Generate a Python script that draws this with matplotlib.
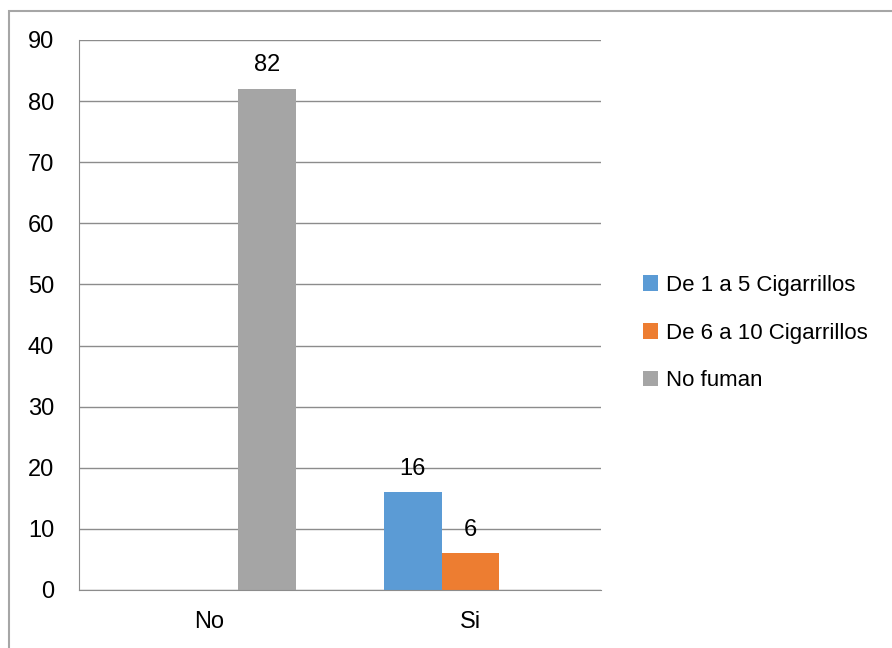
import numpy as np
import matplotlib.pyplot as plt
from matplotlib.patches import Rectangle, Patch

plt.rcParams['font.family'] = ['Liberation Sans', 'DejaVu Sans']

# data
categories = ["No", "Si"]
series_names = ["De 1 a 5 Cigarrillos", "De 6 a 10 Cigarrillos", "No fuman"]
values_1a5 = [0, 16]
values_6a10 = [0, 6]
values_nofuman = [82, 0]
series_colors = ["#5B9BD5", "#ED7D31", "#A5A5A5"]
y_ticks = [0, 10, 20, 30, 40, 50, 60, 70, 80, 90]

W, H = 892, 648
fig = plt.figure(figsize=(W / 100, H / 100), dpi=100)
ax = fig.add_axes([79 / W, (H - 590) / H, (601 - 79) / W, (590 - 40) / H])

# outer chart border (only top and left visible in the reference)
fig.patches.append(Rectangle((9 / W, -0.1), 1.2, (H - 11) / H + 0.1,
                             transform=fig.transFigure, fill=False,
                             edgecolor="#A6A6A6", linewidth=1.5))

FS = 17
x = np.arange(len(categories))
bw = 0.222
all_series = [values_1a5, values_6a10, values_nofuman]
for i, (vals, col) in enumerate(zip(all_series, series_colors)):
    pos = x + (i - 1) * bw
    ax.bar(pos, vals, width=bw, color=col, zorder=2)
    for px, v in zip(pos, vals):
        if v:
            ax.annotate(str(v), (px, v), xytext=(0, 9), textcoords="offset points",
                        ha="center", va="bottom", fontsize=FS)

ax.set_xlim(-0.5, 1.5)
ax.set_ylim(0, 90)
ax.set_yticks(y_ticks)
ax.set_xticks(x)
ax.set_xticklabels(categories)
ax.tick_params(axis="both", length=0, labelsize=FS)
ax.tick_params(axis="y", pad=18)
ax.tick_params(axis="x", pad=15)
ax.grid(axis="y", color="#8C8C8C", linewidth=1, zorder=0)
ax.set_axisbelow(True)
for s in ["top", "right"]:
    ax.spines[s].set_visible(False)
ax.spines["left"].set_color("#8C8C8C")
ax.spines["bottom"].set_color("#8C8C8C")

handles = [Patch(facecolor=c, edgecolor="none") for c in series_colors]
fig.legend(handles, series_names, loc="center left",
           bbox_to_anchor=(634 / W, (H - 333) / H), frameon=False,
           fontsize=16, handlelength=0.7, handleheight=0.7,
           handletextpad=0.35, labelspacing=1.2, borderaxespad=0)

fig.savefig("out.png", dpi=100)
